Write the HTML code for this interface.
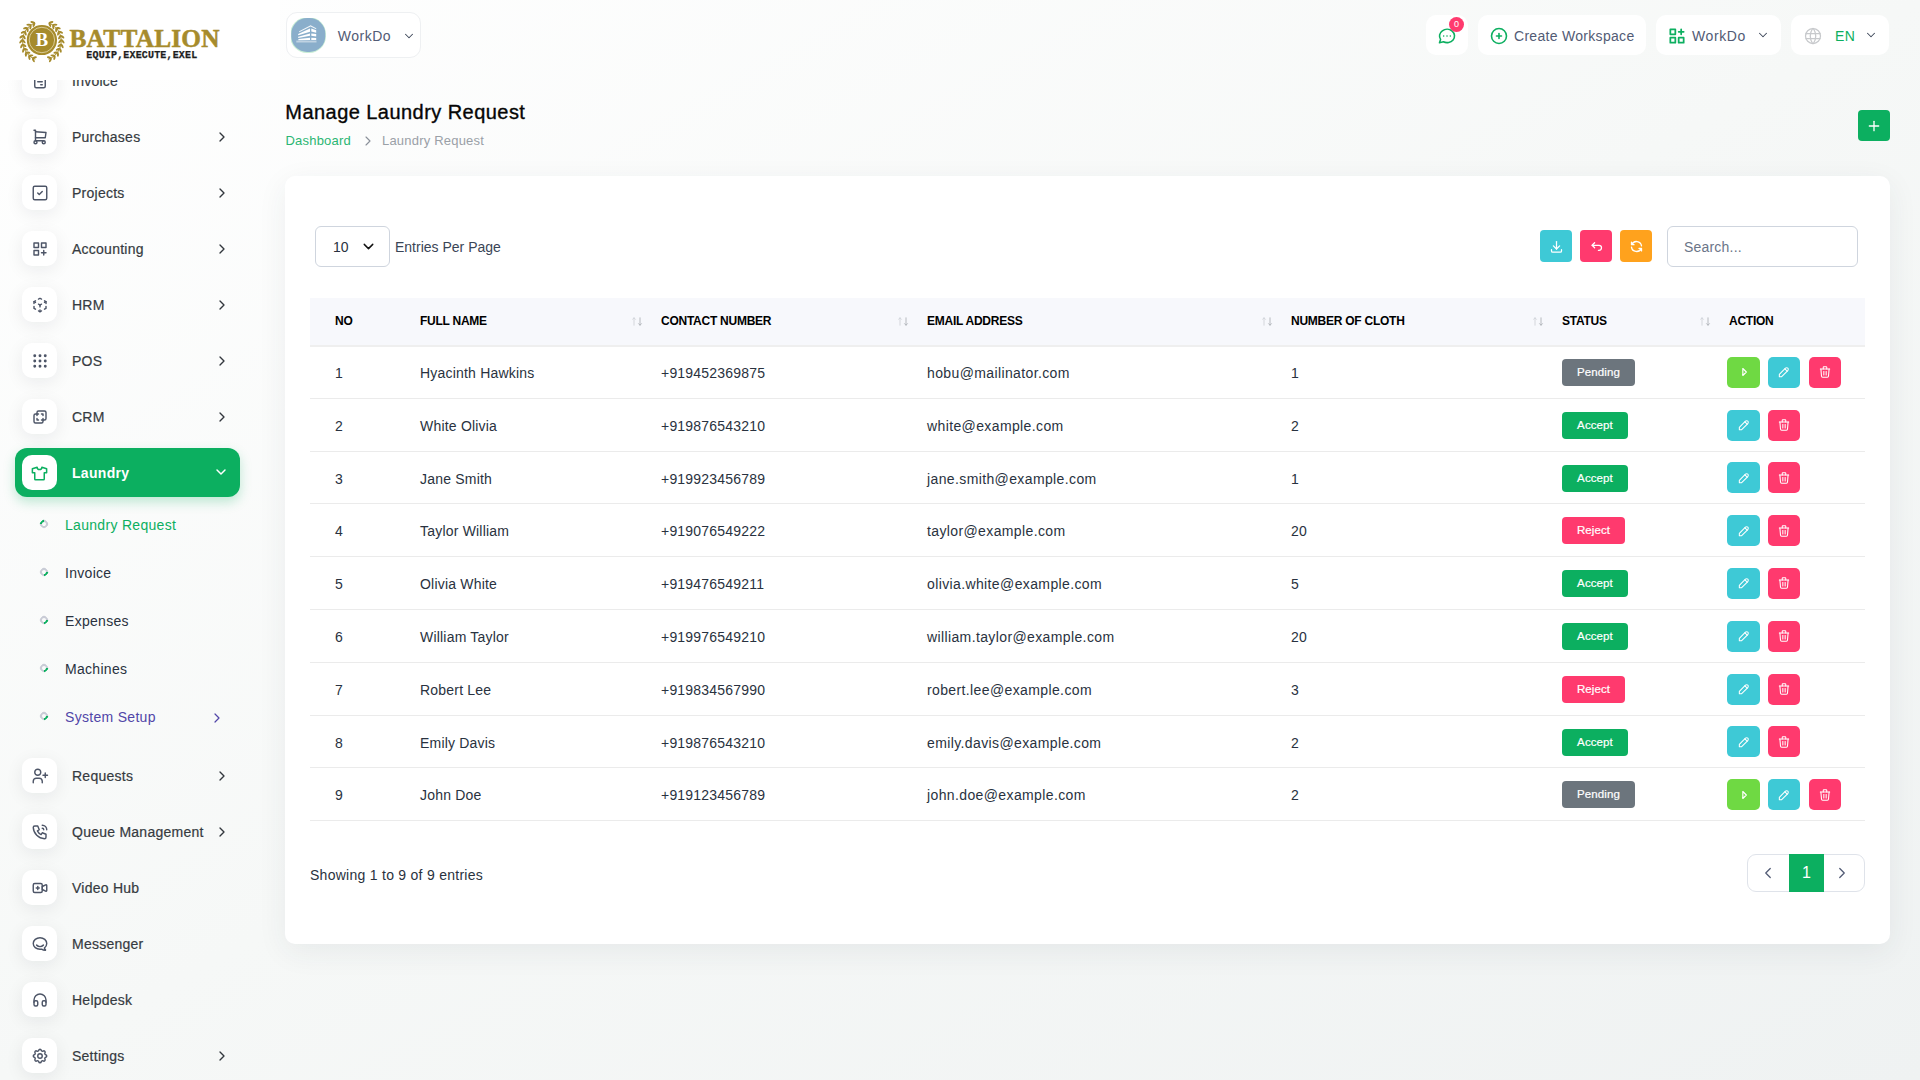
<!DOCTYPE html><html><head><meta charset="utf-8"><style>*{box-sizing:border-box;margin:0;padding:0}
html,body{width:1920px;height:1080px;overflow:hidden}
body{font-family:"Liberation Sans",sans-serif;position:relative;background:linear-gradient(to bottom right,#ffffff 0%,#f6f8f7 50%,#eff2f2 100%);color:#293240}
.abs{position:absolute}
svg.i{fill:none;stroke:currentColor;stroke-linecap:round;stroke-linejoin:round;display:block}
.sb{position:absolute;left:0;top:0;width:280px;height:1080px;overflow:hidden}
.logo{position:absolute;left:0;top:0;width:280px;height:80px;background:#fff;z-index:3}
.item{position:absolute;left:15px;width:225px;height:49px;border-radius:12px}
.ibox{position:absolute;left:7px;top:7px;width:35px;height:35px;border-radius:10px;background:#fff;box-shadow:0 4px 18px rgba(20,25,35,.075);color:#4d5567;display:flex;align-items:center;justify-content:center}
.ilbl{position:absolute;left:57px;top:1px;height:49px;line-height:49px;font-size:14px;color:#363b41;-webkit-text-stroke:.2px #363b41;letter-spacing:.25px;white-space:nowrap}
.chev{position:absolute;left:199px;top:17px;color:#32373d}
.act{background:#0caf60;box-shadow:0 5px 12px rgba(12,175,96,.25)}
.act .ilbl{color:#fff;font-weight:700;-webkit-text-stroke:0;letter-spacing:.3px}
.act .ibox{box-shadow:none}
.sub{position:absolute;left:0;width:240px;height:30px}
.sub .dot{position:absolute;left:40px;top:11px;width:8px;height:8px;border-radius:50%;border:2px solid #c9ccd6;border-right-color:#0caf60;transform:rotate(45deg)}
.sub .lbl{position:absolute;left:65px;top:1px;line-height:30px;font-size:14px;color:#293240;letter-spacing:.3px;white-space:nowrap}
.hbox{position:absolute;top:15px;height:40px;background:#fff;border-radius:10px}
.htxt{position:absolute;top:1px;line-height:40px;font-size:14px;color:#525b75;letter-spacing:.3px;white-space:nowrap}

.avatar{position:absolute;left:4px;top:5px}
.badge0{position:absolute;left:23px;top:2.4px;width:15px;height:15px;border-radius:50%;background:#ff3a6e;color:#fff;font-size:9px;line-height:15px;text-align:center}
.title{position:absolute;left:285.3px;top:100px;font-size:20px;line-height:24px;color:#060606;letter-spacing:.45px;-webkit-text-stroke:.35px #060606;white-space:nowrap}
.bc{position:absolute;left:285.5px;top:133px;font-size:13px;line-height:16px;letter-spacing:.2px;white-space:nowrap;width:300px;height:18px}
.plusbtn{position:absolute;left:1858px;top:110px;width:32px;height:31px;border-radius:4px;background:#0caf60;display:flex;align-items:center;justify-content:center}
.card{position:absolute;left:285px;top:176px;width:1605px;height:768px;background:#fff;border-radius:10px;box-shadow:0 8px 30px rgba(40,55,75,.07)}
.sel{position:absolute;left:315px;top:226px;width:75px;height:41px;border:1px solid #cfd5de;border-radius:6px;font-size:14px;color:#293240;background:#fff}
.epp{position:absolute;left:395px;top:238px;font-size:14px;line-height:18px;color:#3a4556;white-space:nowrap}
.tb{position:absolute;top:230px;width:32px;height:32px;border-radius:4px;display:flex;align-items:center;justify-content:center;color:#fff}
.search{position:absolute;left:1667px;top:226px;width:191px;height:41px;border:1px solid #cfd5de;border-radius:6px;font-size:14px;line-height:41px;padding-left:16px;color:#6b7588;background:#fff;letter-spacing:.2px}
.th{position:absolute;top:298px;left:310px;width:1555px;height:49px;background:#f7f8fc;border-bottom:2px solid #efefef}
.thc{position:absolute;top:0;height:47px;line-height:47px;font-size:12px;font-weight:700;color:#000;white-space:nowrap;letter-spacing:-.25px}
.sort{position:absolute;top:0;line-height:46px;font-size:10px;white-space:nowrap;letter-spacing:-1px}
.row{position:absolute;left:310px;width:1555px;height:52.8px;border-bottom:1.6px solid #ebebeb}
.c{position:absolute;top:2px;height:51px;line-height:51px;font-size:14px;color:#293240;white-space:nowrap;letter-spacing:.2px}
.badge{position:absolute;top:13px;height:27px;line-height:27px;border-radius:4px;color:#fff;font-size:11.5px;font-weight:400;-webkit-text-stroke:.2px #fff;text-align:center;letter-spacing:.1px}
.ab{position:absolute;top:10.8px;width:32px;height:31px;border-radius:5px;display:flex;align-items:center;justify-content:center;color:#fff}
.showing{position:absolute;left:310px;top:866px;font-size:14px;line-height:18px;color:#293240;letter-spacing:.27px;white-space:nowrap}
.pag{position:absolute;left:1747px;top:854px;width:118px;height:38px;border:1px solid #dfe3ea;border-radius:9px;background:#fff}
.pg1{position:absolute;left:41px;top:-1px;width:35px;height:38px;background:#0caf60;color:#fff;font-size:16px;line-height:38px;text-align:center}
.ibox svg{margin-top:1px}
.act .ibox svg{margin-top:1.5px}
</style></head><body>
<div class="sb">
<div class="item" style="top:56px"><div class="ibox"><svg class="i" width="18" height="18" viewBox="0 0 24 24" stroke-width="1.9" style=""><path d="M14 3v4a1 1 0 0 0 1 1h4"/><path d="M17 21h-10a2 2 0 0 1 -2 -2v-14a2 2 0 0 1 2 -2h7l5 5v11a2 2 0 0 1 -2 2z"/><path d="M9 7h1"/><path d="M9 13h6"/><path d="M13 17h2"/></svg></div><div class="ilbl">Invoice</div></div>
<div class="item" style="top:112px"><div class="ibox"><svg class="i" width="18" height="18" viewBox="0 0 24 24" stroke-width="1.9" style=""><path d="M4 19a2 2 0 1 0 4 0a2 2 0 1 0 -4 0"/><path d="M15 19a2 2 0 1 0 4 0a2 2 0 1 0 -4 0"/><path d="M17 17h-11v-14h-2"/><path d="M6 5l14 1l-1 7h-13"/></svg></div><div class="ilbl">Purchases</div><div class="chev"><svg class="i" width="16" height="16" viewBox="0 0 24 24" stroke-width="2" style=""><path d="M9 6l6 6l-6 6"/></svg></div></div>
<div class="item" style="top:168px"><div class="ibox"><svg class="i" width="18" height="18" viewBox="0 0 24 24" stroke-width="1.9" style=""><path d="M3 5a2 2 0 0 1 2 -2h14a2 2 0 0 1 2 2v14a2 2 0 0 1 -2 2h-14a2 2 0 0 1 -2 -2z"/><path d="M9 12l2 2l4 -4"/></svg></div><div class="ilbl">Projects</div><div class="chev"><svg class="i" width="16" height="16" viewBox="0 0 24 24" stroke-width="2" style=""><path d="M9 6l6 6l-6 6"/></svg></div></div>
<div class="item" style="top:224px"><div class="ibox"><svg class="i" width="18" height="18" viewBox="0 0 24 24" stroke-width="1.9" style=""><path d="M4 4h6v6h-6z"/><path d="M14 4h6v6h-6z"/><path d="M4 14h6v6h-6z"/><path d="M14 17h6m-3 -3v6"/></svg></div><div class="ilbl">Accounting</div><div class="chev"><svg class="i" width="16" height="16" viewBox="0 0 24 24" stroke-width="2" style=""><path d="M9 6l6 6l-6 6"/></svg></div></div>
<div class="item" style="top:280px"><div class="ibox"><svg class="i" width="18" height="18" viewBox="0 0 24 24" stroke-width="1.9" style=""><path d="M6 17.6l-2 -1.1v-2.5"/><path d="M4 10v-2.5l2 -1.1"/><path d="M10 4.1l2 -1.1l2 1.1"/><path d="M18 6.4l2 1.1v2.5"/><path d="M20 14v2.5l-2 1.12"/><path d="M14 19.9l-2 1.1l-2 -1.1"/><path d="M12 12l2 -1.1"/><path d="M18 8.6l2 -1.1"/><path d="M12 12l0 2.5"/><path d="M12 18.5l0 2.5"/><path d="M12 12l-2 -1.12"/><path d="M6 8.6l-2 -1.1"/></svg></div><div class="ilbl">HRM</div><div class="chev"><svg class="i" width="16" height="16" viewBox="0 0 24 24" stroke-width="2" style=""><path d="M9 6l6 6l-6 6"/></svg></div></div>
<div class="item" style="top:336px"><div class="ibox"><svg class="i" width="18" height="18" viewBox="0 0 24 24" stroke-width="1.9" style=""><circle cx="5" cy="5" r="1"/><circle cx="12" cy="5" r="1"/><circle cx="19" cy="5" r="1"/><circle cx="5" cy="12" r="1"/><circle cx="12" cy="12" r="1"/><circle cx="19" cy="12" r="1"/><circle cx="5" cy="19" r="1"/><circle cx="12" cy="19" r="1"/><circle cx="19" cy="19" r="1"/></svg></div><div class="ilbl">POS</div><div class="chev"><svg class="i" width="16" height="16" viewBox="0 0 24 24" stroke-width="2" style=""><path d="M9 6l6 6l-6 6"/></svg></div></div>
<div class="item" style="top:392px"><div class="ibox"><svg class="i" width="18" height="18" viewBox="0 0 24 24" stroke-width="1.9" style=""><path d="M16 16v2a2 2 0 0 1 -2 2h-8a2 2 0 0 1 -2 -2v-8a2 2 0 0 1 2 -2h2v-2a2 2 0 0 1 2 -2h8a2 2 0 0 1 2 2v8a2 2 0 0 1 -2 2h-2"/><path d="M10 8h-2v2"/><path d="M8 14v2h2"/><path d="M14 8h2v2"/><path d="M16 14v2h-2"/></svg></div><div class="ilbl">CRM</div><div class="chev"><svg class="i" width="16" height="16" viewBox="0 0 24 24" stroke-width="2" style=""><path d="M9 6l6 6l-6 6"/></svg></div></div>
<div class="item" style="top:751px"><div class="ibox"><svg class="i" width="18" height="18" viewBox="0 0 24 24" stroke-width="1.9" style=""><circle cx="9" cy="7" r="4"/><path d="M3 21v-2a4 4 0 0 1 4 -4h4a4 4 0 0 1 4 4v2"/><path d="M16 11h6m-3 -3v6"/></svg></div><div class="ilbl">Requests</div><div class="chev"><svg class="i" width="16" height="16" viewBox="0 0 24 24" stroke-width="2" style=""><path d="M9 6l6 6l-6 6"/></svg></div></div>
<div class="item" style="top:807px"><div class="ibox"><svg class="i" width="18" height="18" viewBox="0 0 24 24" stroke-width="1.9" style=""><path d="M5 4h4l2 5l-2.5 1.5a11 11 0 0 0 5 5l1.5 -2.5l5 2v4a2 2 0 0 1 -2 2a16 16 0 0 1 -15 -15a2 2 0 0 1 2 -2"/><path d="M15 7a2 2 0 0 1 2 2"/><path d="M15 3a6 6 0 0 1 6 6"/></svg></div><div class="ilbl">Queue Management</div><div class="chev"><svg class="i" width="16" height="16" viewBox="0 0 24 24" stroke-width="2" style=""><path d="M9 6l6 6l-6 6"/></svg></div></div>
<div class="item" style="top:863px"><div class="ibox"><svg class="i" width="18" height="18" viewBox="0 0 24 24" stroke-width="1.9" style=""><path d="M15 10l4.553 -2.276a1 1 0 0 1 1.447 .894v6.764a1 1 0 0 1 -1.447 .894l-4.553 -2.276v-4z"/><path d="M3 8a2 2 0 0 1 2 -2h8a2 2 0 0 1 2 2v8a2 2 0 0 1 -2 2h-8a2 2 0 0 1 -2 -2z"/><path d="M7 12h4"/><path d="M9 10v4"/></svg></div><div class="ilbl">Video Hub</div></div>
<div class="item" style="top:919px"><div class="ibox"><svg class="i" width="18" height="18" viewBox="0 0 24 24" stroke-width="1.9" style=""><path d="M17.802 17.292s.077 -.055 .2 -.149c1.843 -1.425 3 -3.49 3 -5.789c0 -4.286 -4.03 -7.764 -9 -7.764c-4.97 0 -9 3.478 -9 7.764c0 4.288 4.03 7.646 9 7.646c.424 0 1.12 -.028 2.088 -.084c1.262 .82 3.104 1.493 4.716 1.493c.499 0 .734 -.41 .414 -.828c-.486 -.596 -1.156 -1.551 -1.416 -2.29z"/><path d="M7.5 13.5c2.5 2.5 6.5 2.5 9 0"/></svg></div><div class="ilbl">Messenger</div></div>
<div class="item" style="top:975px"><div class="ibox"><svg class="i" width="18" height="18" viewBox="0 0 24 24" stroke-width="1.9" style=""><path d="M4 15a2 2 0 0 1 2 -2h1a2 2 0 0 1 2 2v3a2 2 0 0 1 -2 2h-1a2 2 0 0 1 -2 -2z"/><path d="M15 15a2 2 0 0 1 2 -2h1a2 2 0 0 1 2 2v3a2 2 0 0 1 -2 2h-1a2 2 0 0 1 -2 -2z"/><path d="M4 15v-3a8 8 0 0 1 16 0v3"/></svg></div><div class="ilbl">Helpdesk</div></div>
<div class="item" style="top:1031px"><div class="ibox"><svg class="i" width="18" height="18" viewBox="0 0 24 24" stroke-width="1.9" style=""><path d="M10.325 4.317c.426 -1.756 2.924 -1.756 3.35 0a1.724 1.724 0 0 0 2.573 1.066c1.543 -.94 3.31 .826 2.37 2.37a1.724 1.724 0 0 0 1.065 2.572c1.756 .426 1.756 2.924 0 3.35a1.724 1.724 0 0 0 -1.066 2.573c.94 1.543 -.826 3.31 -2.37 2.37a1.724 1.724 0 0 0 -2.572 1.065c-.426 1.756 -2.924 1.756 -3.35 0a1.724 1.724 0 0 0 -2.573 -1.066c-1.543 .94 -3.31 -.826 -2.37 -2.37a1.724 1.724 0 0 0 -1.065 -2.572c-1.756 -.426 -1.756 -2.924 0 -3.35a1.724 1.724 0 0 0 1.066 -2.573c-.94 -1.543 .826 -3.31 2.37 -2.37c1 .608 2.296 .07 2.572 -1.065z"/><path d="M9 12a3 3 0 1 0 6 0a3 3 0 0 0 -6 0"/></svg></div><div class="ilbl">Settings</div><div class="chev"><svg class="i" width="16" height="16" viewBox="0 0 24 24" stroke-width="2" style=""><path d="M9 6l6 6l-6 6"/></svg></div></div>
<div class="item act" style="top:448px"><div class="ibox"><svg class="i" width="19" height="19" viewBox="0 0 24 24" stroke-width="1.9" style="color:#0caf60;"><path d="M15 4l6 2v5h-3v8a1 1 0 0 1 -1 1h-10a1 1 0 0 1 -1 -1v-8h-3v-5l6 -2a3 3 0 0 0 6 0"/></svg></div><div class="ilbl">Laundry</div><div class="chev" style="left:197.7px;top:16px"><svg class="i" width="16" height="16" viewBox="0 0 24 24" stroke-width="2.2" style="color:#fff;"><path d="M6 9l6 6l6 -6"/></svg></div></div>
<div class="sub" style="top:509px"><div class="dot" style="transform:rotate(225deg)"></div><div class="lbl" style="color:#0caf60;">Laundry Request</div></div>
<div class="sub" style="top:557px"><div class="dot" style=""></div><div class="lbl" style="">Invoice</div></div>
<div class="sub" style="top:605px"><div class="dot" style=""></div><div class="lbl" style="">Expenses</div></div>
<div class="sub" style="top:653px"><div class="dot" style=""></div><div class="lbl" style="">Machines</div></div>
<div class="sub" style="top:701px"><div class="dot" style=""></div><div class="lbl" style="color:#5146a8;">System Setup</div><div class="chev" style="left:209px;top:9px;color:#5146a8"><svg class="i" width="16" height="16" viewBox="0 0 24 24" stroke-width="1.8" style=""><path d="M9 6l6 6l-6 6"/></svg></div></div>
<div class="logo">
<svg class="abs" style="left:0;top:0" width="280" height="80" viewBox="0 0 280 80">
<g><polyline points="34.67,23.11 33.21,23.77 31.81,24.55 30.48,25.44 29.23,26.44 28.07,27.54 27.00,28.74 26.03,30.02 25.17,31.37 24.43,32.79 23.81,34.27 23.32,35.79 22.95,37.35 22.71,38.94 22.61,40.54 22.63,42.14 22.79,43.73 23.09,45.31 23.51,46.85 24.06,48.36 24.73,49.81 25.52,51.21 26.42,52.53 27.43,53.78 28.54,54.93 29.75,55.99 31.03,56.95 32.39,57.80 33.82,58.53 35.30,59.14" fill="none" stroke="#a68b2c" stroke-width="1"/><ellipse cx="32.74" cy="22.22" rx="2.4" ry="1.05" transform="rotate(194.0 32.74 22.22)" fill="#a68b2c"/><ellipse cx="33.97" cy="24.73" rx="2.4" ry="1.05" transform="rotate(114.0 33.97 24.73)" fill="#a68b2c"/><ellipse cx="28.75" cy="24.76" rx="2.4" ry="1.05" transform="rotate(181.0 28.75 24.76)" fill="#a68b2c"/><ellipse cx="30.51" cy="26.93" rx="2.4" ry="1.05" transform="rotate(101.0 30.51 26.93)" fill="#a68b2c"/><ellipse cx="25.43" cy="28.13" rx="2.4" ry="1.05" transform="rotate(168.0 25.43 28.13)" fill="#a68b2c"/><ellipse cx="27.64" cy="29.86" rx="2.4" ry="1.05" transform="rotate(88.0 27.64 29.86)" fill="#a68b2c"/><ellipse cx="22.96" cy="32.17" rx="2.4" ry="1.05" transform="rotate(155.0 22.96 32.17)" fill="#a68b2c"/><ellipse cx="25.50" cy="33.35" rx="2.4" ry="1.05" transform="rotate(75.0 25.50 33.35)" fill="#a68b2c"/><ellipse cx="21.46" cy="36.65" rx="2.4" ry="1.05" transform="rotate(142.0 21.46 36.65)" fill="#a68b2c"/><ellipse cx="24.20" cy="37.24" rx="2.4" ry="1.05" transform="rotate(62.0 24.20 37.24)" fill="#a68b2c"/><ellipse cx="21.00" cy="41.36" rx="2.4" ry="1.05" transform="rotate(129.0 21.00 41.36)" fill="#a68b2c"/><ellipse cx="23.80" cy="41.32" rx="2.4" ry="1.05" transform="rotate(49.0 23.80 41.32)" fill="#a68b2c"/><ellipse cx="21.62" cy="46.06" rx="2.4" ry="1.05" transform="rotate(116.0 21.62 46.06)" fill="#a68b2c"/><ellipse cx="24.34" cy="45.38" rx="2.4" ry="1.05" transform="rotate(36.0 24.34 45.38)" fill="#a68b2c"/><ellipse cx="23.28" cy="50.49" rx="2.4" ry="1.05" transform="rotate(103.0 23.28 50.49)" fill="#a68b2c"/><ellipse cx="25.77" cy="49.22" rx="2.4" ry="1.05" transform="rotate(23.0 25.77 49.22)" fill="#a68b2c"/><ellipse cx="25.89" cy="54.43" rx="2.4" ry="1.05" transform="rotate(90.0 25.89 54.43)" fill="#a68b2c"/><ellipse cx="28.03" cy="52.63" rx="2.4" ry="1.05" transform="rotate(10.0 28.03 52.63)" fill="#a68b2c"/><ellipse cx="29.32" cy="57.69" rx="2.4" ry="1.05" transform="rotate(77.0 29.32 57.69)" fill="#a68b2c"/><ellipse cx="31.01" cy="55.46" rx="2.4" ry="1.05" transform="rotate(-3.0 31.01 55.46)" fill="#a68b2c"/><ellipse cx="33.40" cy="60.09" rx="2.4" ry="1.05" transform="rotate(64.0 33.40 60.09)" fill="#a68b2c"/><ellipse cx="34.54" cy="57.54" rx="2.4" ry="1.05" transform="rotate(-16.0 34.54 57.54)" fill="#a68b2c"/><polyline points="49.13,23.11 50.59,23.77 51.99,24.55 53.32,25.44 54.57,26.44 55.73,27.54 56.80,28.74 57.77,30.02 58.63,31.37 59.37,32.79 59.99,34.27 60.48,35.79 60.85,37.35 61.09,38.94 61.19,40.54 61.17,42.14 61.01,43.73 60.71,45.31 60.29,46.85 59.74,48.36 59.07,49.81 58.28,51.21 57.38,52.53 56.37,53.78 55.26,54.93 54.05,55.99 52.77,56.95 51.41,57.80 49.98,58.53 48.50,59.14" fill="none" stroke="#a68b2c" stroke-width="1"/><ellipse cx="51.06" cy="22.22" rx="2.4" ry="1.05" transform="rotate(-14.0 51.06 22.22)" fill="#a68b2c"/><ellipse cx="49.83" cy="24.73" rx="2.4" ry="1.05" transform="rotate(66.0 49.83 24.73)" fill="#a68b2c"/><ellipse cx="55.05" cy="24.76" rx="2.4" ry="1.05" transform="rotate(-1.0 55.05 24.76)" fill="#a68b2c"/><ellipse cx="53.29" cy="26.93" rx="2.4" ry="1.05" transform="rotate(79.0 53.29 26.93)" fill="#a68b2c"/><ellipse cx="58.37" cy="28.13" rx="2.4" ry="1.05" transform="rotate(12.0 58.37 28.13)" fill="#a68b2c"/><ellipse cx="56.16" cy="29.86" rx="2.4" ry="1.05" transform="rotate(92.0 56.16 29.86)" fill="#a68b2c"/><ellipse cx="60.84" cy="32.17" rx="2.4" ry="1.05" transform="rotate(25.0 60.84 32.17)" fill="#a68b2c"/><ellipse cx="58.30" cy="33.35" rx="2.4" ry="1.05" transform="rotate(105.0 58.30 33.35)" fill="#a68b2c"/><ellipse cx="62.34" cy="36.65" rx="2.4" ry="1.05" transform="rotate(38.0 62.34 36.65)" fill="#a68b2c"/><ellipse cx="59.60" cy="37.24" rx="2.4" ry="1.05" transform="rotate(118.0 59.60 37.24)" fill="#a68b2c"/><ellipse cx="62.80" cy="41.36" rx="2.4" ry="1.05" transform="rotate(51.0 62.80 41.36)" fill="#a68b2c"/><ellipse cx="60.00" cy="41.32" rx="2.4" ry="1.05" transform="rotate(131.0 60.00 41.32)" fill="#a68b2c"/><ellipse cx="62.18" cy="46.06" rx="2.4" ry="1.05" transform="rotate(64.0 62.18 46.06)" fill="#a68b2c"/><ellipse cx="59.46" cy="45.38" rx="2.4" ry="1.05" transform="rotate(144.0 59.46 45.38)" fill="#a68b2c"/><ellipse cx="60.52" cy="50.49" rx="2.4" ry="1.05" transform="rotate(77.0 60.52 50.49)" fill="#a68b2c"/><ellipse cx="58.03" cy="49.22" rx="2.4" ry="1.05" transform="rotate(157.0 58.03 49.22)" fill="#a68b2c"/><ellipse cx="57.91" cy="54.43" rx="2.4" ry="1.05" transform="rotate(90.0 57.91 54.43)" fill="#a68b2c"/><ellipse cx="55.77" cy="52.63" rx="2.4" ry="1.05" transform="rotate(170.0 55.77 52.63)" fill="#a68b2c"/><ellipse cx="54.48" cy="57.69" rx="2.4" ry="1.05" transform="rotate(103.0 54.48 57.69)" fill="#a68b2c"/><ellipse cx="52.79" cy="55.46" rx="2.4" ry="1.05" transform="rotate(183.0 52.79 55.46)" fill="#a68b2c"/><ellipse cx="50.40" cy="60.09" rx="2.4" ry="1.05" transform="rotate(116.0 50.40 60.09)" fill="#a68b2c"/><ellipse cx="49.26" cy="57.54" rx="2.4" ry="1.05" transform="rotate(196.0 49.26 57.54)" fill="#a68b2c"/></g>
<circle cx="41.9" cy="40" r="15.1" fill="#a68b2c"/>
<circle cx="41.9" cy="40" r="12.7" fill="none" stroke="#efe6c6" stroke-width=".7"/>
<text x="41.9" y="46.3" text-anchor="middle" font-family="Liberation Serif" font-weight="700" font-size="18.5" fill="#fff">B</text>
<text x="69.5" y="46.5" font-family="Liberation Serif" font-weight="700" font-size="25.3" letter-spacing=".25" fill="#a68b2c" stroke="#a68b2c" stroke-width=".5">BATTALION</text>
<text x="86.3" y="57.8" font-family="Liberation Mono" font-weight="700" font-size="10" letter-spacing=".17" fill="#1d1d1d" stroke="#1d1d1d" stroke-width=".25">EQUIP,EXECUTE,EXEL</text>
</svg>
</div>
</div>
<div class="hbox" style="left:285.8px;top:12.3px;width:135.5px;height:45.5px;border:1px solid #eef0f2;border-radius:11px"><div class="avatar"><svg width="35" height="35" viewBox="0 0 35 35"><rect x="-0.7" y="-0.7" width="35.6" height="35.6" rx="16.5" fill="#c9eed6"/><rect x="0.3" y="0" width="34" height="34" rx="15.8" fill="#8aaecb"/><g fill="#fff"><path d="M8.2 13.3L19.6 7.2L25.2 10.3v0.9L19.6 8.4L8.2 14.2z" opacity=".9"/><path d="M7.2 15.9L19 10.6v3.1L7.2 17.3z"/><path d="M7.2 18.7L19 15.6v2.2L7.2 19.9z"/><path d="M7.4 21L19 19.7v2.3L7.4 22.3z"/><path d="M20.3 10.6L25.2 12.2v2.6L20.3 13.4z"/><path d="M20.3 15.4L25.2 16.1v2.4L20.3 17.8z"/><path d="M20.3 19.7L25.2 20v2L20.3 22z"/><rect x="5.3" y="22.6" width="20.2" height="1.9" opacity=".45"/></g></svg></div><div class="htxt" style="left:51px;top:3px;letter-spacing:.5px">WorkDo</div><div class="abs" style="left:115px;top:15.5px;color:#3c4658"><svg class="i" width="14" height="14" viewBox="0 0 24 24" stroke-width="1.75" style=""><path d="M6 9l6 6l6 -6"/></svg></div></div>
<div class="hbox" style="left:1426px;width:42px"><div class="abs" style="left:11px;top:11px;color:#0caf60"><svg class="i" width="20" height="20" viewBox="0 0 24 24" stroke-width="1.9" style=""><path d="M3 20l1.3 -3.9c-2.324 -3.437 -1.426 -7.872 2.1 -10.374c3.526 -2.501 8.59 -2.296 11.845 .48c3.255 2.777 3.695 7.266 1.029 10.501c-2.666 3.235 -7.615 4.215 -11.574 2.293l-4.7 1"/><path d="M8 12h.01"/><path d="M12 12h.01"/><path d="M16 12h.01"/></svg></div><div class="badge0">0</div></div>
<div class="hbox" style="left:1478px;width:168px"><div class="abs" style="left:11.4px;top:10.7px;color:#0caf60"><svg class="i" width="20" height="20" viewBox="0 0 24 24" stroke-width="1.9" style=""><path d="M3 12a9 9 0 1 0 18 0a9 9 0 0 0 -18 0"/><path d="M9 12h6"/><path d="M12 9v6"/></svg></div><div class="htxt" style="left:36px">Create Workspace</div></div>
<div class="hbox" style="left:1656px;width:125px"><div class="abs" style="left:11px;top:11px;color:#0caf60"><svg class="i" width="20" height="20" viewBox="0 0 24 24" stroke-width="2.1" style=""><path d="M4 4h6v6h-6z"/><path d="M4 14h6v6h-6z"/><path d="M14 14h6v6h-6z"/><path d="M14 7h6m-3 -3v6"/></svg></div><div class="htxt" style="left:36px;letter-spacing:.6px">WorkDo</div><div class="abs" style="left:100.3px;top:13px;color:#3c4658"><svg class="i" width="14" height="14" viewBox="0 0 24 24" stroke-width="1.75" style=""><path d="M6 9l6 6l6 -6"/></svg></div></div>
<div class="hbox" style="left:1791px;width:98px"><div class="abs" style="left:11.5px;top:11px;color:#c7c9cc"><svg class="i" width="20" height="20" viewBox="0 0 24 24" stroke-width="1.5" style=""><path d="M3 12a9 9 0 1 0 18 0a9 9 0 0 0 -18 0"/><path d="M3.6 9h16.8"/><path d="M3.6 15h16.8"/><path d="M11.5 3a17 17 0 0 0 0 18"/><path d="M12.5 3a17 17 0 0 1 0 18"/></svg></div><div class="htxt" style="left:44px;color:#0caf60">EN</div><div class="abs" style="left:73px;top:13px;color:#3c4658"><svg class="i" width="14" height="14" viewBox="0 0 24 24" stroke-width="1.75" style=""><path d="M6 9l6 6l6 -6"/></svg></div></div>
<div class="title">Manage Laundry Request</div>
<div class="bc"><span style="color:#2bb673">Dashboard</span><span class="abs" style="left:74.5px;top:0px;color:#8a9099"><svg class="i" width="16" height="16" viewBox="0 0 24 24" stroke-width="1.7" style=""><path d="M9 6l6 6l-6 6"/></svg></span><span class="abs" style="left:96.5px;color:#9aa0a7">Laundry Request</span></div>
<div class="plusbtn"><svg class="i" width="16" height="16" viewBox="0 0 24 24" stroke-width="2" style="color:#fff;"><path d="M12 5v14"/><path d="M5 12h14"/></svg></div>
<div class="card"></div>
<div class="sel"><span class="abs" style="left:17px;top:1px;line-height:39px">10</span><span class="abs" style="left:44px;top:11px;color:#111"><svg class="i" width="17" height="17" viewBox="0 0 24 24" stroke-width="2" style=""><path d="M6 9l6 6l6 -6"/></svg></span></div>
<div class="epp">Entries Per Page</div>
<div class="tb" style="left:1540px;background:#3ec9d6"><svg class="i" width="15" height="15" viewBox="0 0 24 24" stroke-width="2" style=""><path d="M4 17v2a2 2 0 0 0 2 2h12a2 2 0 0 0 2 -2v-2"/><path d="M7 11l5 5l5 -5"/><path d="M12 4v12"/></svg></div>
<div class="tb" style="left:1580px;background:#ff3a6e"><svg class="i" width="15" height="15" viewBox="0 0 24 24" stroke-width="2" style=""><path d="M9 14l-4 -4l4 -4"/><path d="M5 10h11a4 4 0 1 1 0 8h-1"/></svg></div>
<div class="tb" style="left:1620px;background:#ffa21d"><svg class="i" width="15" height="15" viewBox="0 0 24 24" stroke-width="2.1" style=""><path d="M20 11a8.1 8.1 0 0 0 -15.5 -2m-.5 -4v4h4"/><path d="M4 13a8.1 8.1 0 0 0 15.5 2m.5 4v-4h-4"/></svg></div>
<div class="search">Search...</div>
<div class="th">
<div class="thc" style="left:25px">NO</div>
<div class="thc" style="left:110px">FULL NAME</div>
<svg class="abs" style="left:322px;top:18.5px" width="11" height="9" viewBox="0 0 11 9" fill="none" stroke-width=".9" stroke-linecap="round"><path d="M2 0.8v7.4M0.6 2.3L2 0.8L3.4 2.3" stroke="#cfd3d8"/><path d="M8 0.8v7.4M6.6 6.7L8 8.2L9.4 6.7" stroke="#aeb2b8"/></svg>
<div class="thc" style="left:351px">CONTACT NUMBER</div>
<svg class="abs" style="left:588px;top:18.5px" width="11" height="9" viewBox="0 0 11 9" fill="none" stroke-width=".9" stroke-linecap="round"><path d="M2 0.8v7.4M0.6 2.3L2 0.8L3.4 2.3" stroke="#cfd3d8"/><path d="M8 0.8v7.4M6.6 6.7L8 8.2L9.4 6.7" stroke="#aeb2b8"/></svg>
<div class="thc" style="left:617px">EMAIL ADDRESS</div>
<svg class="abs" style="left:952px;top:18.5px" width="11" height="9" viewBox="0 0 11 9" fill="none" stroke-width=".9" stroke-linecap="round"><path d="M2 0.8v7.4M0.6 2.3L2 0.8L3.4 2.3" stroke="#cfd3d8"/><path d="M8 0.8v7.4M6.6 6.7L8 8.2L9.4 6.7" stroke="#aeb2b8"/></svg>
<div class="thc" style="left:981px">NUMBER OF CLOTH</div>
<svg class="abs" style="left:1223px;top:18.5px" width="11" height="9" viewBox="0 0 11 9" fill="none" stroke-width=".9" stroke-linecap="round"><path d="M2 0.8v7.4M0.6 2.3L2 0.8L3.4 2.3" stroke="#cfd3d8"/><path d="M8 0.8v7.4M6.6 6.7L8 8.2L9.4 6.7" stroke="#aeb2b8"/></svg>
<div class="thc" style="left:1252px">STATUS</div>
<svg class="abs" style="left:1390px;top:18.5px" width="11" height="9" viewBox="0 0 11 9" fill="none" stroke-width=".9" stroke-linecap="round"><path d="M2 0.8v7.4M0.6 2.3L2 0.8L3.4 2.3" stroke="#cfd3d8"/><path d="M8 0.8v7.4M6.6 6.7L8 8.2L9.4 6.7" stroke="#aeb2b8"/></svg>
<div class="thc" style="left:1419px">ACTION</div>
</div>
<div class="row" style="top:346.0px">
<div class="c" style="left:25px;">1</div>
<div class="c" style="left:110px;">Hyacinth Hawkins</div>
<div class="c" style="left:351px;">+919452369875</div>
<div class="c" style="left:617px;letter-spacing:.38px">hobu@mailinator.com</div>
<div class="c" style="left:981px;">1</div>
<div class="badge" style="left:1252px;width:73px;background:#6c757d">Pending</div>
<div class="ab" style="left:1417px;width:33px;background:#6fd943"><svg class="i" width="14" height="14" viewBox="0 0 24 24" stroke-width="2" style=""><path d="M10 18l6 -6l-6 -6v12"/></svg></div>
<div class="ab" style="left:1458px;background:#3ec9d6;"><svg class="i" width="14" height="14" viewBox="0 0 24 24" stroke-width="1.8" style=""><path d="M4 20h4l10.5 -10.5a2.828 2.828 0 1 0 -4 -4l-10.5 10.5v4"/><path d="M13.5 6.5l4 4"/></svg></div>
<div class="ab" style="left:1499px;background:#ff3a6e"><svg class="i" width="14" height="14" viewBox="0 0 24 24" stroke-width="1.8" style=""><path d="M4 7h16"/><path d="M10 11v6"/><path d="M14 11v6"/><path d="M5 7l1 12a2 2 0 0 0 2 2h8a2 2 0 0 0 2 -2l1 -12"/><path d="M9 7v-3a1 1 0 0 1 1 -1h4a1 1 0 0 1 1 1v3"/></svg></div>
</div>
<div class="row" style="top:398.8px">
<div class="c" style="left:25px;">2</div>
<div class="c" style="left:110px;">White Olivia</div>
<div class="c" style="left:351px;">+919876543210</div>
<div class="c" style="left:617px;letter-spacing:.38px">white@example.com</div>
<div class="c" style="left:981px;">2</div>
<div class="badge" style="left:1252px;width:66px;background:#0caf60">Accept</div>
<div class="ab" style="left:1417px;background:#3ec9d6;width:33px"><svg class="i" width="14" height="14" viewBox="0 0 24 24" stroke-width="1.8" style=""><path d="M4 20h4l10.5 -10.5a2.828 2.828 0 1 0 -4 -4l-10.5 10.5v4"/><path d="M13.5 6.5l4 4"/></svg></div>
<div class="ab" style="left:1458px;background:#ff3a6e"><svg class="i" width="14" height="14" viewBox="0 0 24 24" stroke-width="1.8" style=""><path d="M4 7h16"/><path d="M10 11v6"/><path d="M14 11v6"/><path d="M5 7l1 12a2 2 0 0 0 2 2h8a2 2 0 0 0 2 -2l1 -12"/><path d="M9 7v-3a1 1 0 0 1 1 -1h4a1 1 0 0 1 1 1v3"/></svg></div>
</div>
<div class="row" style="top:451.6px">
<div class="c" style="left:25px;">3</div>
<div class="c" style="left:110px;">Jane Smith</div>
<div class="c" style="left:351px;">+919923456789</div>
<div class="c" style="left:617px;letter-spacing:.38px">jane.smith@example.com</div>
<div class="c" style="left:981px;">1</div>
<div class="badge" style="left:1252px;width:66px;background:#0caf60">Accept</div>
<div class="ab" style="left:1417px;background:#3ec9d6;width:33px"><svg class="i" width="14" height="14" viewBox="0 0 24 24" stroke-width="1.8" style=""><path d="M4 20h4l10.5 -10.5a2.828 2.828 0 1 0 -4 -4l-10.5 10.5v4"/><path d="M13.5 6.5l4 4"/></svg></div>
<div class="ab" style="left:1458px;background:#ff3a6e"><svg class="i" width="14" height="14" viewBox="0 0 24 24" stroke-width="1.8" style=""><path d="M4 7h16"/><path d="M10 11v6"/><path d="M14 11v6"/><path d="M5 7l1 12a2 2 0 0 0 2 2h8a2 2 0 0 0 2 -2l1 -12"/><path d="M9 7v-3a1 1 0 0 1 1 -1h4a1 1 0 0 1 1 1v3"/></svg></div>
</div>
<div class="row" style="top:504.4px">
<div class="c" style="left:25px;">4</div>
<div class="c" style="left:110px;">Taylor William</div>
<div class="c" style="left:351px;">+919076549222</div>
<div class="c" style="left:617px;letter-spacing:.38px">taylor@example.com</div>
<div class="c" style="left:981px;">20</div>
<div class="badge" style="left:1252px;width:63px;background:#ff3a6e">Reject</div>
<div class="ab" style="left:1417px;background:#3ec9d6;width:33px"><svg class="i" width="14" height="14" viewBox="0 0 24 24" stroke-width="1.8" style=""><path d="M4 20h4l10.5 -10.5a2.828 2.828 0 1 0 -4 -4l-10.5 10.5v4"/><path d="M13.5 6.5l4 4"/></svg></div>
<div class="ab" style="left:1458px;background:#ff3a6e"><svg class="i" width="14" height="14" viewBox="0 0 24 24" stroke-width="1.8" style=""><path d="M4 7h16"/><path d="M10 11v6"/><path d="M14 11v6"/><path d="M5 7l1 12a2 2 0 0 0 2 2h8a2 2 0 0 0 2 -2l1 -12"/><path d="M9 7v-3a1 1 0 0 1 1 -1h4a1 1 0 0 1 1 1v3"/></svg></div>
</div>
<div class="row" style="top:557.2px">
<div class="c" style="left:25px;">5</div>
<div class="c" style="left:110px;">Olivia White</div>
<div class="c" style="left:351px;">+919476549211</div>
<div class="c" style="left:617px;letter-spacing:.38px">olivia.white@example.com</div>
<div class="c" style="left:981px;">5</div>
<div class="badge" style="left:1252px;width:66px;background:#0caf60">Accept</div>
<div class="ab" style="left:1417px;background:#3ec9d6;width:33px"><svg class="i" width="14" height="14" viewBox="0 0 24 24" stroke-width="1.8" style=""><path d="M4 20h4l10.5 -10.5a2.828 2.828 0 1 0 -4 -4l-10.5 10.5v4"/><path d="M13.5 6.5l4 4"/></svg></div>
<div class="ab" style="left:1458px;background:#ff3a6e"><svg class="i" width="14" height="14" viewBox="0 0 24 24" stroke-width="1.8" style=""><path d="M4 7h16"/><path d="M10 11v6"/><path d="M14 11v6"/><path d="M5 7l1 12a2 2 0 0 0 2 2h8a2 2 0 0 0 2 -2l1 -12"/><path d="M9 7v-3a1 1 0 0 1 1 -1h4a1 1 0 0 1 1 1v3"/></svg></div>
</div>
<div class="row" style="top:610.0px">
<div class="c" style="left:25px;">6</div>
<div class="c" style="left:110px;">William Taylor</div>
<div class="c" style="left:351px;">+919976549210</div>
<div class="c" style="left:617px;letter-spacing:.38px">william.taylor@example.com</div>
<div class="c" style="left:981px;">20</div>
<div class="badge" style="left:1252px;width:66px;background:#0caf60">Accept</div>
<div class="ab" style="left:1417px;background:#3ec9d6;width:33px"><svg class="i" width="14" height="14" viewBox="0 0 24 24" stroke-width="1.8" style=""><path d="M4 20h4l10.5 -10.5a2.828 2.828 0 1 0 -4 -4l-10.5 10.5v4"/><path d="M13.5 6.5l4 4"/></svg></div>
<div class="ab" style="left:1458px;background:#ff3a6e"><svg class="i" width="14" height="14" viewBox="0 0 24 24" stroke-width="1.8" style=""><path d="M4 7h16"/><path d="M10 11v6"/><path d="M14 11v6"/><path d="M5 7l1 12a2 2 0 0 0 2 2h8a2 2 0 0 0 2 -2l1 -12"/><path d="M9 7v-3a1 1 0 0 1 1 -1h4a1 1 0 0 1 1 1v3"/></svg></div>
</div>
<div class="row" style="top:662.8px">
<div class="c" style="left:25px;">7</div>
<div class="c" style="left:110px;">Robert Lee</div>
<div class="c" style="left:351px;">+919834567990</div>
<div class="c" style="left:617px;letter-spacing:.38px">robert.lee@example.com</div>
<div class="c" style="left:981px;">3</div>
<div class="badge" style="left:1252px;width:63px;background:#ff3a6e">Reject</div>
<div class="ab" style="left:1417px;background:#3ec9d6;width:33px"><svg class="i" width="14" height="14" viewBox="0 0 24 24" stroke-width="1.8" style=""><path d="M4 20h4l10.5 -10.5a2.828 2.828 0 1 0 -4 -4l-10.5 10.5v4"/><path d="M13.5 6.5l4 4"/></svg></div>
<div class="ab" style="left:1458px;background:#ff3a6e"><svg class="i" width="14" height="14" viewBox="0 0 24 24" stroke-width="1.8" style=""><path d="M4 7h16"/><path d="M10 11v6"/><path d="M14 11v6"/><path d="M5 7l1 12a2 2 0 0 0 2 2h8a2 2 0 0 0 2 -2l1 -12"/><path d="M9 7v-3a1 1 0 0 1 1 -1h4a1 1 0 0 1 1 1v3"/></svg></div>
</div>
<div class="row" style="top:715.6px">
<div class="c" style="left:25px;">8</div>
<div class="c" style="left:110px;">Emily Davis</div>
<div class="c" style="left:351px;">+919876543210</div>
<div class="c" style="left:617px;letter-spacing:.38px">emily.davis@example.com</div>
<div class="c" style="left:981px;">2</div>
<div class="badge" style="left:1252px;width:66px;background:#0caf60">Accept</div>
<div class="ab" style="left:1417px;background:#3ec9d6;width:33px"><svg class="i" width="14" height="14" viewBox="0 0 24 24" stroke-width="1.8" style=""><path d="M4 20h4l10.5 -10.5a2.828 2.828 0 1 0 -4 -4l-10.5 10.5v4"/><path d="M13.5 6.5l4 4"/></svg></div>
<div class="ab" style="left:1458px;background:#ff3a6e"><svg class="i" width="14" height="14" viewBox="0 0 24 24" stroke-width="1.8" style=""><path d="M4 7h16"/><path d="M10 11v6"/><path d="M14 11v6"/><path d="M5 7l1 12a2 2 0 0 0 2 2h8a2 2 0 0 0 2 -2l1 -12"/><path d="M9 7v-3a1 1 0 0 1 1 -1h4a1 1 0 0 1 1 1v3"/></svg></div>
</div>
<div class="row" style="top:768.4px">
<div class="c" style="left:25px;">9</div>
<div class="c" style="left:110px;">John Doe</div>
<div class="c" style="left:351px;">+919123456789</div>
<div class="c" style="left:617px;letter-spacing:.38px">john.doe@example.com</div>
<div class="c" style="left:981px;">2</div>
<div class="badge" style="left:1252px;width:73px;background:#6c757d">Pending</div>
<div class="ab" style="left:1417px;width:33px;background:#6fd943"><svg class="i" width="14" height="14" viewBox="0 0 24 24" stroke-width="2" style=""><path d="M10 18l6 -6l-6 -6v12"/></svg></div>
<div class="ab" style="left:1458px;background:#3ec9d6;"><svg class="i" width="14" height="14" viewBox="0 0 24 24" stroke-width="1.8" style=""><path d="M4 20h4l10.5 -10.5a2.828 2.828 0 1 0 -4 -4l-10.5 10.5v4"/><path d="M13.5 6.5l4 4"/></svg></div>
<div class="ab" style="left:1499px;background:#ff3a6e"><svg class="i" width="14" height="14" viewBox="0 0 24 24" stroke-width="1.8" style=""><path d="M4 7h16"/><path d="M10 11v6"/><path d="M14 11v6"/><path d="M5 7l1 12a2 2 0 0 0 2 2h8a2 2 0 0 0 2 -2l1 -12"/><path d="M9 7v-3a1 1 0 0 1 1 -1h4a1 1 0 0 1 1 1v3"/></svg></div>
</div>
<div class="showing">Showing 1 to 9 of 9 entries</div>
<div class="pag"><span class="abs" style="left:11px;top:9px;color:#525b75"><svg class="i" width="18" height="18" viewBox="0 0 24 24" stroke-width="1.7" style=""><path d="M15 6l-6 6l6 6"/></svg></span><div class="pg1">1</div><span class="abs" style="left:85px;top:9px;color:#525b75"><svg class="i" width="18" height="18" viewBox="0 0 24 24" stroke-width="1.7" style=""><path d="M9 6l6 6l-6 6"/></svg></span></div>
</body></html>
